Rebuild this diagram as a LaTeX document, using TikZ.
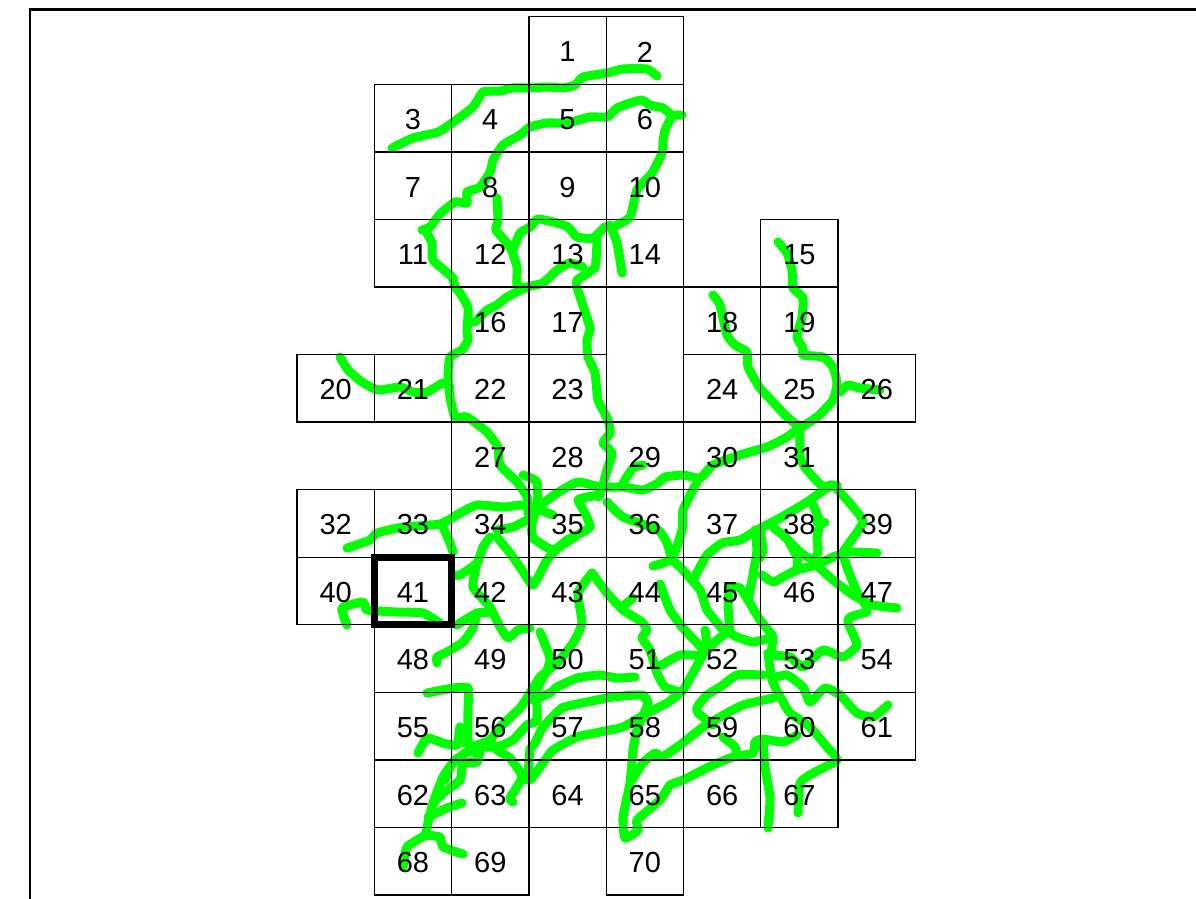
\documentclass[tikz,border=0pt]{standalone}
\usepackage{fontspec}
\setmainfont{Liberation Sans}
\definecolor{roadgreen}{RGB}{0,255,0}
\tikzset{
  road/.style={draw=roadgreen,line width=9pt,line cap=round,line join=round},
  cell/.style={draw=black,line width=1.3pt,minimum width=77.3pt,minimum height=67.55pt,inner sep=0pt},
  celltext/.style={font=\fontsize{29}{30}\selectfont,inner sep=0pt},
  frameline/.style={draw=black,line width=2.2pt},
  mark41/.style={draw=black,line width=7pt,line join=miter,minimum width=77.3pt,minimum height=67.55pt,inner sep=0pt}
}
\newcommand{\road}[1]{\draw[road] plot[smooth,tension=.3] coordinates {#1};}
\begin{document}
\begin{tikzpicture}[x=1pt,y=-1pt]
\useasboundingbox (0,0) rectangle (1196,899);
% roads
\road{(392,148)(413,138)(438,132)(452,123)(473,107)(483,92)(500,91)(512,88)(530,88)(547,87)(563,88)(575,85)(583,77)(607,73)(623,69)(647,69)(657,76)}
\road{(422,230)(430,227)(440,214)(455,202)(467,203)(467,192)(480,187)(490,172)(493,160)(503,145)(520,135)(530,127)(547,123)(567,123)(590,117)(607,117)(617,108)(630,103)(642,100)(650,105)(663,108)(672,115)(682,115)}
\road{(672,116)(665,130)(663,142)(662,153)(652,173)(637,190)(630,217)(613,227)(605,227)(593,238)(577,237)(568,227)(557,223)(538,219)(530,227)(520,233)(513,250)}
\road{(610,225)(617,243)(622,273)}
\road{(497,198)(498,220)(496,230)(510,247)(517,267)(517,285)(527,288)}
\road{(583,267)(570,263)(557,270)(543,283)(527,287)(507,297)(497,305)(487,310)(475,322)}
\road{(597,237)(595,267)(577,280)(577,287)(582,303)(590,328)(587,340)(588,357)(595,373)(598,400)(608,420)(610,433)(603,443)(612,453)(607,470)(602,488)(598,497)}
\road{(425,230)(432,243)(433,260)(452,277)(455,287)(460,293)(468,308)(467,332)(468,340)(462,350)(450,357)(448,377)(450,397)(455,417)(467,417)(487,432)(498,447)(500,465)(517,482)(527,497)(528,513)}
\road{(523,475)(537,482)(537,507)(532,523)(533,538)(553,550)(567,540)(577,535)(590,527)(585,513)(578,500)(587,497)(600,495)}
\road{(497,537)(510,553)(522,570)(533,585)(547,560)(558,548)(575,537)}
\road{(340,357)(348,370)(362,382)(378,390)(400,387)(413,392)(427,392)(443,383)(450,387)}
\road{(347,548)(370,540)(377,533)(403,527)(440,524)(460,513)(477,505)(503,507)(523,505)(540,510)(553,515)}
\road{(537,508)(557,493)(578,482)(600,487)(623,487)(643,490)(658,483)(665,477)(683,475)(700,478)(713,465)(740,455)(767,447)(787,437)(800,427)}
\road{(623,483)(633,468)(643,465)}
\road{(497,530)(513,527)(527,520)}
\road{(490,537)(483,547)(477,563)(460,575)(453,575)}
\road{(477,563)(473,587)(490,607)(500,627)(508,638)(518,630)(530,628)}
\road{(442,525)(450,543)(453,552)}
\road{(347,625)(342,608)(363,602)(367,610)(397,612)(423,613)(440,623)}
\road{(457,625)(477,613)(490,613)}
\road{(477,613)(473,628)(463,642)(447,652)(437,657)(437,663)}
\road{(592,573)(578,593)(582,623)(573,643)(557,663)(540,677)(530,693)(520,708)(500,727)(490,740)(473,747)(453,763)(443,777)(433,803)(427,827)(425,835)(407,847)(403,867)}
\road{(592,573)(607,593)(623,610)(642,622)(647,630)(642,638)(650,650)(657,673)(665,687)(680,692)}
\road{(622,607)(633,598)}
\road{(607,502)(623,517)(658,530)(667,543)(672,560)}
\road{(697,482)(683,510)(682,530)(673,557)(663,563)(653,566)}
\road{(672,560)(680,567)(700,590)(707,610)(723,630)}
\road{(660,584)(670,610)(683,628)(702,648)}
\road{(705,630)(707,647)(700,660)(683,690)(667,703)(647,713)(623,727)(600,732)(577,737)(553,750)(543,763)(530,780)(522,777)}
\road{(427,693)(453,688)(468,688)(468,710)(468,740)(475,753)}
\road{(418,753)(427,738)(443,743)(457,745)(460,727)(465,743)}
\road{(513,802)(510,798)(522,777)(510,758)(497,750)(490,740)}
\road{(540,632)(550,658)(547,670)(537,690)(537,720)(527,725)(513,740)(497,747)(477,747)(467,753)}
\road{(635,677)(617,678)(600,675)(577,678)(557,687)(550,693)(533,700)}
\road{(647,700)(640,695)(613,697)(587,702)(562,708)(543,727)(535,743)(530,750)(528,777)}
\road{(643,695)(648,703)(637,730)(633,750)(630,783)(623,817)(625,838)(638,830)(637,820)(660,800)(670,785)(683,780)(713,765)(733,757)(753,753)(755,742)(763,739)(783,742)(797,735)}
\road{(632,780)(643,763)(655,753)(662,757)(680,745)(703,727)(720,717)(743,705)(773,698)}
\road{(723,737)(735,747)(737,757)}
\road{(713,725)(698,713)(697,707)(707,695)(720,687)(737,675)(763,675)}
\road{(763,740)(765,767)(770,798)(768,828)}
\road{(768,653)(772,680)(782,700)(790,713)(810,727)(827,747)(837,760)(813,773)(800,783)(798,813)}
\road{(770,655)(790,657)(803,667)(823,650)(843,657)(857,645)(848,623)(850,617)(867,612)}
\road{(773,678)(787,675)(803,687)(810,702)(825,688)(840,695)(857,713)(873,717)(888,705)}
\road{(730,632)(728,605)(730,587)(740,588)(748,600)(760,620)(773,637)(770,657)}
\road{(728,632)(737,637)(753,642)(770,638)}
\road{(658,667)(680,655)(702,655)(717,640)(728,632)}
\road{(755,530)(757,550)(755,563)(752,580)(748,600)}
\road{(693,580)(700,567)(707,555)(722,543)(740,540)(757,530)(780,518)(807,502)(827,488)(837,485)}
\road{(800,427)(800,457)(807,470)(823,487)(833,485)(853,507)(863,522)(850,542)(843,553)(848,570)(857,592)(867,607)}
\road{(812,503)(820,522)(817,537)(818,552)(813,560)(800,552)(785,537)(773,527)}
\road{(817,522)(825,522)}
\road{(760,530)(763,550)(760,558)}
\road{(788,540)(797,557)(797,570)}
\road{(762,575)(773,582)(783,577)(797,570)(817,565)(833,557)(850,552)(877,553)}
\road{(813,562)(833,580)(853,595)(873,605)(897,608)}
\road{(778,242)(787,253)(792,270)(793,288)(803,298)(802,317)(797,337)(803,348)(803,355)(823,357)(833,367)(837,383)(833,400)(817,417)(800,428)}
\road{(713,295)(720,305)(727,335)(735,345)(747,352)(748,367)(760,388)(773,402)(787,417)(800,427)}
\road{(840,392)(848,385)(860,388)(880,390)}
\road{(428,817)(447,808)(462,803)}
\road{(425,835)(440,837)(443,847)(463,854)}
\road{(480,750)(477,762)(463,763)(460,780)(443,793)(433,803)}
\road{(467,752)(453,762)(445,780)}
% frame
\draw[frameline] (1196,9.5) -- (30,9.5) -- (30,899);
% cells
\foreach \n/\i/\j in {1/3/0,2/4/0,
 3/1/1,4/2/1,5/3/1,6/4/1,
 7/1/2,8/2/2,9/3/2,10/4/2,
 11/1/3,12/2/3,13/3/3,14/4/3,15/6/3,
 16/2/4,17/3/4,18/5/4,19/6/4,
 20/0/5,21/1/5,22/2/5,23/3/5,24/5/5,25/6/5,26/7/5,
 27/2/6,28/3/6,29/4/6,30/5/6,31/6/6,
 32/0/7,33/1/7,34/2/7,35/3/7,36/4/7,37/5/7,38/6/7,39/7/7,
 40/0/8,41/1/8,42/2/8,43/3/8,44/4/8,45/5/8,46/6/8,47/7/8,
 48/1/9,49/2/9,50/3/9,51/4/9,52/5/9,53/6/9,54/7/9,
 55/1/10,56/2/10,57/3/10,58/4/10,59/5/10,60/6/10,61/7/10,
 62/1/11,63/2/11,64/3/11,65/4/11,66/5/11,67/6/11,
 68/1/12,69/2/12,70/4/12}
 {\node[cell] (c\n) at ({335.65+77.3*\i},{50.6+67.55*\j}) {};
  \node[celltext] (t\n) at ([yshift=-1.4pt]c\n.center) {\n};}
% highlighted cell 41
\node[mark41] (sel) at (c41) {};
\end{tikzpicture}
\end{document}
